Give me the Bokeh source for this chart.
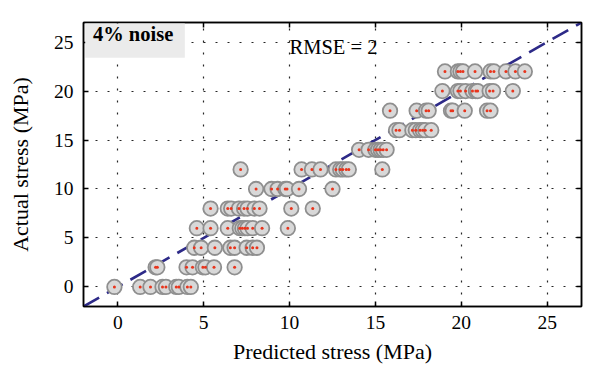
from bokeh.plotting import figure
from bokeh.models import Range1d, LinearAxis, Label, BoxAnnotation, FixedTicker, ColumnDataSource
from bokeh.embed import file_html
from bokeh.resources import INLINE

# Actual stress levels (MPa) and predicted values read for each level
actual_levels = [0, 2, 4, 6, 8, 10, 12, 14, 16, 18, 20, 22]
pred_at_0 = [-0.2, 1.3, 1.9, 2.6, 2.8, 3.4, 3.55, 4.05, 4.25]
pred_at_2 = [2.2, 2.3, 4.0, 4.35, 4.95, 5.1, 5.6, 6.8]
pred_at_4 = [4.45, 4.85, 5.65, 6.55, 6.8, 7.5, 7.85, 8.1]
pred_at_6 = [4.6, 5.4, 6.4, 7.1, 7.25, 7.4, 7.55, 7.85, 8.4, 9.9]
pred_at_8 = [5.4, 6.4, 6.6, 7.05, 7.35, 7.55, 7.95, 8.25, 10.1, 11.35]
pred_at_10 = [8.05, 8.95, 9.3, 9.75, 9.85, 10.55, 12.5]
pred_at_12 = [7.15, 10.7, 11.3, 11.8, 12.7, 12.95, 13.1, 13.3, 13.45, 15.4]
pred_at_14 = [14.05, 14.6, 15.0, 15.15, 15.3, 15.45, 15.65]
pred_at_16 = [16.2, 16.4, 17.15, 17.35, 17.6, 17.75, 17.9, 18.25]
pred_at_18 = [15.85, 17.4, 17.95, 18.1, 19.4, 19.5, 20.2, 21.5, 21.7]
pred_at_20 = [18.9, 19.8, 19.95, 20.25, 20.65, 20.85, 20.95, 21.65, 21.85, 23.0]
pred_at_22 = [19.05, 19.8, 19.95, 20.1, 20.8, 21.7, 21.9, 22.6, 23.15, 23.7]

tick_values = [0, 5, 10, 15, 20, 25]
axis_min, axis_max = -2, 27
rmse_text = "RMSE = 2"
noise_text = "4% noise"

rows = [pred_at_0, pred_at_2, pred_at_4, pred_at_6, pred_at_8, pred_at_10,
        pred_at_12, pred_at_14, pred_at_16, pred_at_18, pred_at_20, pred_at_22]
xs, ys = [], []
for lvl, row in zip(actual_levels, rows):
    xs.extend(row)
    ys.extend([lvl] * len(row))
src = ColumnDataSource(dict(x=xs, y=ys))

FONT = "Liberation Serif"

p = figure(width=592, height=380, output_backend="svg", toolbar_location=None,
           x_range=Range1d(axis_min, axis_max), y_range=Range1d(axis_min, axis_max),
           min_border_left=83, min_border_right=11, min_border_top=22, min_border_bottom=74,
           x_axis_label="Predicted stress (MPa)", y_axis_label="Actual stress (MPa)")
p.outline_line_color = "black"
p.outline_line_width = 1.5
p.background_fill_color = "white"
p.border_fill_color = "white"

ticker = FixedTicker(ticks=tick_values)
for ax in p.xaxis + p.yaxis:
    ax.ticker = ticker
    ax.major_tick_in = 5
    ax.major_tick_out = 0
    ax.minor_tick_in = 0
    ax.minor_tick_out = 0
    ax.axis_line_color = "black"
    ax.axis_line_width = 1.5
    ax.major_tick_line_width = 1.5
    ax.major_label_text_font = FONT
    ax.major_label_text_font_size = "19.5px"
    ax.major_label_text_color = "black"
    ax.axis_label_text_font = FONT
    ax.axis_label_text_font_size = "22px"
    ax.axis_label_text_font_style = "normal"
    ax.axis_label_text_color = "black"
p.xaxis.major_label_standoff = 9
p.xaxis.axis_label_standoff = 7
p.yaxis.major_label_standoff = 10
p.yaxis.axis_label_standoff = 18

# box ticks on the top and right sides (tick marks only, no labels)
box_ticker = FixedTicker(ticks=[], minor_ticks=tick_values)
for loc in ("right", "above"):
    ax = LinearAxis(ticker=box_ticker, major_tick_in=0, major_tick_out=0,
                    minor_tick_in=5, minor_tick_out=0,
                    axis_line_color="black", axis_line_width=1.5,
                    minor_tick_line_color="black", minor_tick_line_width=1.5)
    p.add_layout(ax, loc)

for g in (p.xgrid, p.ygrid):
    g.ticker = ticker
    g.grid_line_color = "black"
    g.grid_line_alpha = 0.85
    g.grid_line_width = 1.2
    g.grid_line_dash = "2 10"

p.add_layout(BoxAnnotation(left=-1.9, right=3.9, bottom=23.4, top=26.9,
                           fill_color="#ebebeb", fill_alpha=1.0, line_color=None))

p.line([axis_min, axis_max], [axis_min, axis_max], line_color="#2d2a88",
       line_width=2.6, line_dash="18 9")

p.scatter("x", "y", source=src, marker="circle", size=14.5, fill_color="#d8d8d8",
          line_color="#8f8f8f", line_width=1.8)
p.scatter("x", "y", source=src, marker="circle", size=3, fill_color="#e8341c",
          line_color=None)

p.add_layout(Label(x=-1.45, y=24.66, text=noise_text, text_font=FONT,
                   text_font_size="20.5px", text_font_style="bold", text_color="black"))
p.add_layout(Label(x=10.0, y=23.4, text=rmse_text, text_font=FONT,
                   text_font_size="20.5px", text_color="black"))

open("out.html", "w").write(file_html(p, INLINE))
